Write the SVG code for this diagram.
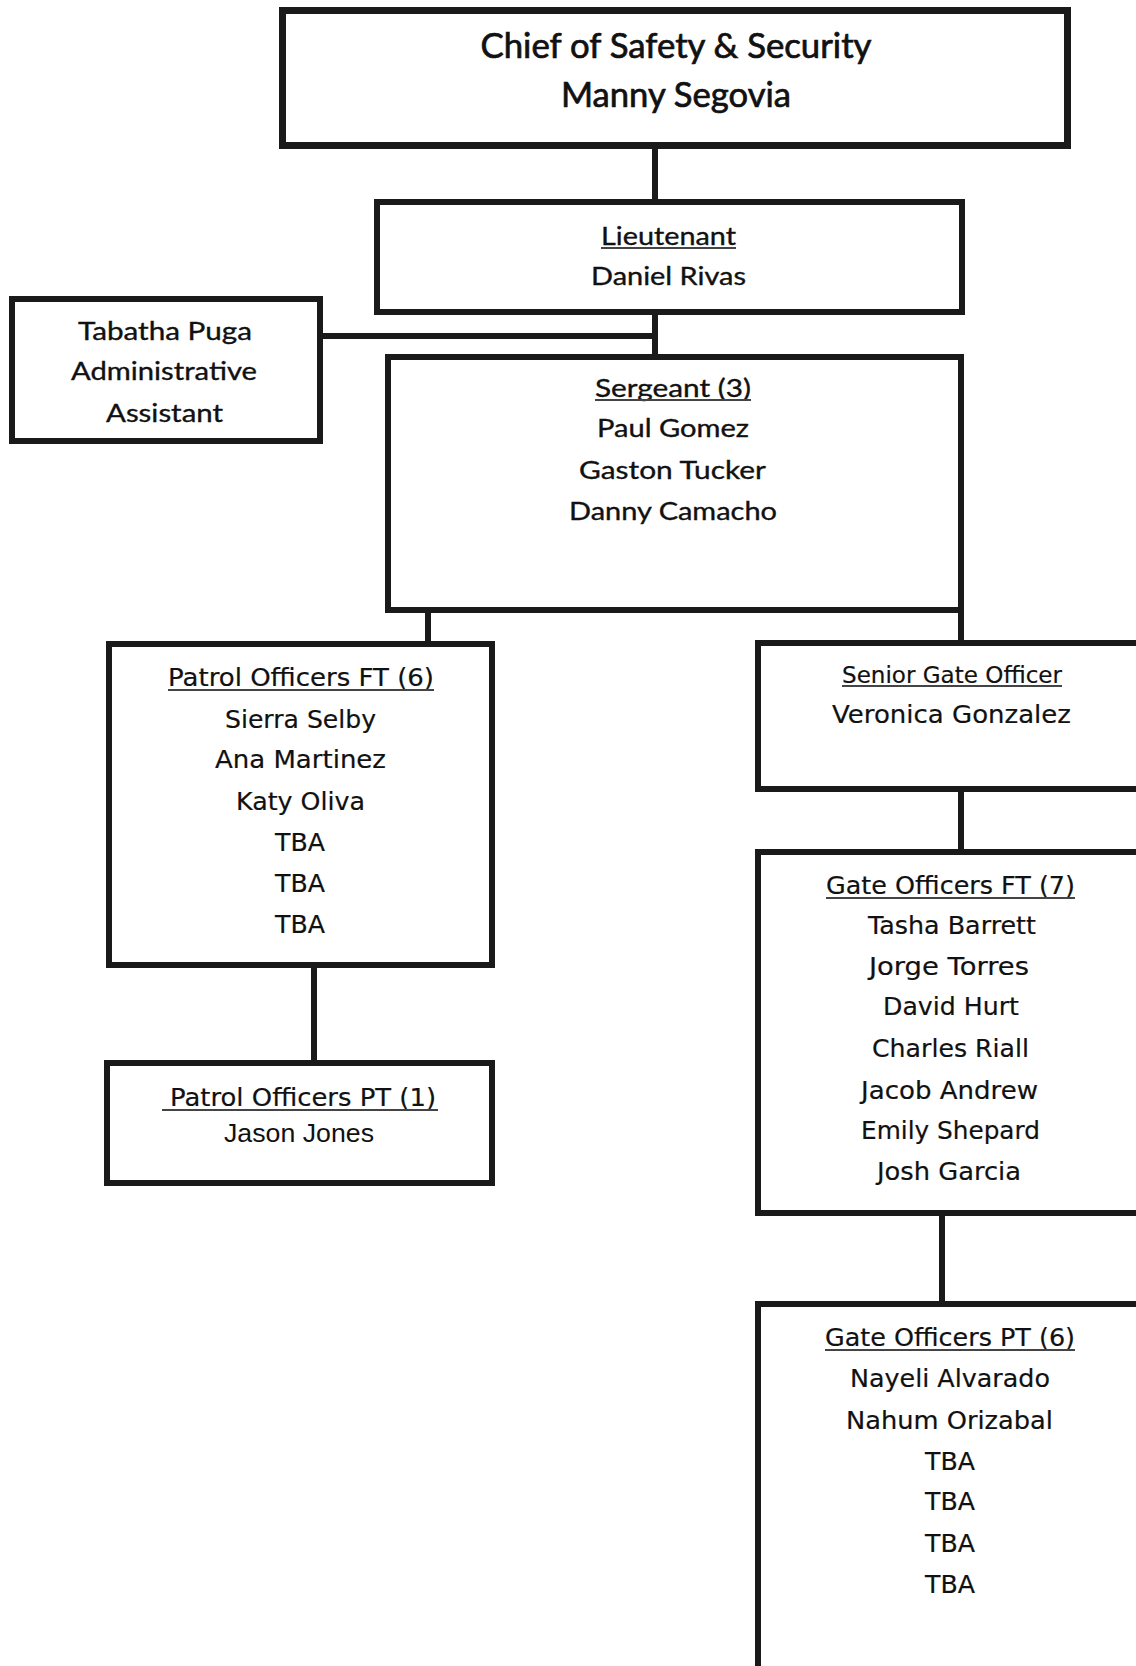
<svg xmlns="http://www.w3.org/2000/svg" width="1136" height="1666" viewBox="0 0 1136 1666">
<style>
.box{fill:#fff;stroke:#1a1a1a;stroke-width:6}
.boxc{fill:#fff;stroke:#1a1a1a;stroke-width:7}
.con{stroke:#1a1a1a;stroke-width:6;fill:none}
.c{font-family:Lato,"Liberation Sans",sans-serif;font-size:25px;fill:#111;stroke:#111;stroke-width:0.35;text-anchor:middle}
.big{font-size:34px;stroke-width:0.7}
.l{font-family:"DejaVu Sans","Liberation Sans",sans-serif;font-size:25px;fill:#111;stroke:#111;stroke-width:0.2;text-anchor:middle}
.s{font-size:23px}
.j{font-family:"Liberation Sans",Arial,sans-serif;font-size:25px;fill:#111;text-anchor:middle}
.ul{stroke:#444;stroke-width:2}
</style>
<rect width="1136" height="1666" fill="#fff"/>
<g id="connectors">
<line class="con" x1="655" y1="149" x2="655" y2="202"/>
<line class="con" x1="655" y1="312" x2="655" y2="357"/>
<line class="con" x1="320" y1="336" x2="655" y2="336"/>
<line class="con" x1="428" y1="610" x2="428" y2="644"/>
<line class="con" x1="961" y1="610" x2="961" y2="643"/>
<line class="con" x1="314" y1="965" x2="314" y2="1063"/>
<line class="con" x1="961" y1="789" x2="961" y2="852"/>
<line class="con" x1="942" y1="1213" x2="942" y2="1304"/>
</g>
<g id="chief">
<rect class="boxc" x="282.5" y="10.5" width="785" height="135"/>
<text class="c big" x="676" y="58" textLength="391" lengthAdjust="spacingAndGlyphs">Chief of Safety &amp; Security</text>
<text class="c big" x="676" y="107" textLength="230" lengthAdjust="spacingAndGlyphs">Manny Segovia</text>
</g>
<g id="lieutenant">
<rect class="box" x="377" y="202" width="585" height="110"/>
<text class="c" x="668.5" y="245" textLength="135" lengthAdjust="spacingAndGlyphs">Lieutenant</text>
<line class="ul" x1="601" y1="248" x2="736" y2="248"/>
<text class="c" x="668.5" y="285" textLength="155" lengthAdjust="spacingAndGlyphs">Daniel Rivas</text>
</g>
<g id="admin">
<rect class="box" x="12" y="299" width="308" height="142"/>
<text class="c" x="165" y="340" textLength="174" lengthAdjust="spacingAndGlyphs">Tabatha Puga</text>
<text class="c" x="164" y="380" textLength="186" lengthAdjust="spacingAndGlyphs">Administrative</text>
<text class="c" x="164.5" y="422" textLength="117" lengthAdjust="spacingAndGlyphs">Assistant</text>
</g>
<g id="sergeant">
<rect class="box" x="388" y="357" width="573" height="253"/>
<text class="c" x="673" y="397" textLength="156" lengthAdjust="spacingAndGlyphs">Sergeant (3)</text>
<line class="ul" x1="595" y1="400" x2="751" y2="400"/>
<text class="c" x="673" y="437" textLength="152" lengthAdjust="spacingAndGlyphs">Paul Gomez</text>
<text class="c" x="672.5" y="479" textLength="187" lengthAdjust="spacingAndGlyphs">Gaston Tucker</text>
<text class="c" x="673" y="520" textLength="208" lengthAdjust="spacingAndGlyphs">Danny Camacho</text>
</g>
<g id="patrol-ft">
<rect class="box" x="109" y="644" width="383" height="321"/>
<text class="l" x="301" y="686" textLength="266" lengthAdjust="spacingAndGlyphs">Patrol Officers FT (6)</text>
<line class="ul" x1="168" y1="690" x2="434" y2="690"/>
<text class="l" x="300.5" y="728" textLength="151" lengthAdjust="spacingAndGlyphs">Sierra Selby</text>
<text class="l" x="300.5" y="768" textLength="171" lengthAdjust="spacingAndGlyphs">Ana Martinez</text>
<text class="l" x="300.5" y="810" textLength="129" lengthAdjust="spacingAndGlyphs">Katy Oliva</text>
<text class="l" x="300" y="851" textLength="50" lengthAdjust="spacingAndGlyphs">TBA</text>
<text class="l" x="300" y="892" textLength="50" lengthAdjust="spacingAndGlyphs">TBA</text>
<text class="l" x="300" y="933" textLength="50" lengthAdjust="spacingAndGlyphs">TBA</text>
</g>
<g id="patrol-pt">
<rect class="box" x="107" y="1063" width="385" height="120"/>
<text class="l" x="303" y="1106" textLength="266" lengthAdjust="spacingAndGlyphs">Patrol Officers PT (1)</text>
<line class="ul" x1="162" y1="1110" x2="438" y2="1110"/>
<text class="j" x="299" y="1142" textLength="150" lengthAdjust="spacingAndGlyphs">Jason Jones</text>
</g>
<g id="senior-gate">
<rect class="box" x="758" y="643" width="400" height="146"/>
<text class="l s" x="952" y="683" textLength="220" lengthAdjust="spacingAndGlyphs">Senior Gate Officer</text>
<line class="ul" x1="842" y1="686" x2="1062" y2="686"/>
<text class="l" x="951.5" y="723" textLength="239" lengthAdjust="spacingAndGlyphs">Veronica Gonzalez</text>
</g>
<g id="gate-ft">
<rect class="box" x="758" y="852" width="400" height="361"/>
<text class="l" x="950.5" y="894" textLength="249" lengthAdjust="spacingAndGlyphs">Gate Officers FT (7)</text>
<line class="ul" x1="826" y1="898" x2="1075" y2="898"/>
<text class="l" x="952" y="934" textLength="168" lengthAdjust="spacingAndGlyphs">Tasha Barrett</text>
<text class="l" x="949" y="975" textLength="160" lengthAdjust="spacingAndGlyphs">Jorge Torres</text>
<text class="l" x="951" y="1015" textLength="136" lengthAdjust="spacingAndGlyphs">David Hurt</text>
<text class="l" x="950.5" y="1057" textLength="157" lengthAdjust="spacingAndGlyphs">Charles Riall</text>
<text class="l" x="949.5" y="1099" textLength="177" lengthAdjust="spacingAndGlyphs">Jacob Andrew</text>
<text class="l" x="950.5" y="1139" textLength="179" lengthAdjust="spacingAndGlyphs">Emily Shepard</text>
<text class="l" x="949" y="1180" textLength="144" lengthAdjust="spacingAndGlyphs">Josh Garcia</text>
</g>
<g id="gate-pt">
<rect class="box" x="758" y="1304" width="400" height="400"/>
<text class="l" x="950" y="1346" textLength="250" lengthAdjust="spacingAndGlyphs">Gate Officers PT (6)</text>
<line class="ul" x1="825" y1="1350" x2="1075" y2="1350"/>
<text class="l" x="950" y="1387" textLength="200" lengthAdjust="spacingAndGlyphs">Nayeli Alvarado</text>
<text class="l" x="949.5" y="1429" textLength="207" lengthAdjust="spacingAndGlyphs">Nahum Orizabal</text>
<text class="l" x="950" y="1470" textLength="50" lengthAdjust="spacingAndGlyphs">TBA</text>
<text class="l" x="950" y="1510" textLength="50" lengthAdjust="spacingAndGlyphs">TBA</text>
<text class="l" x="950" y="1552" textLength="50" lengthAdjust="spacingAndGlyphs">TBA</text>
<text class="l" x="950" y="1593" textLength="50" lengthAdjust="spacingAndGlyphs">TBA</text>
</g>
</svg>
